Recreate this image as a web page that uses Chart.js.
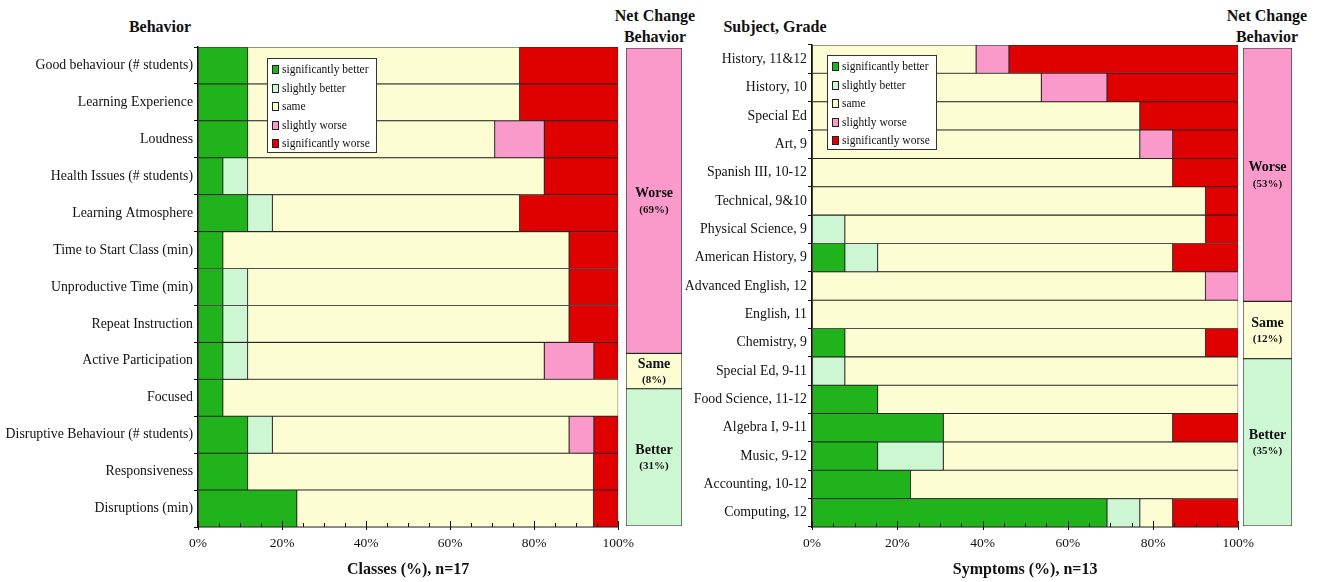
<!DOCTYPE html>
<html>
<head>
<meta charset="utf-8">
<script src="https://cdn.jsdelivr.net/npm/chart.js@4.4.1/dist/chart.umd.min.js"></script>
<style>
body { margin: 0; background: #fff; width: 1325px; height: 582px; overflow: hidden; position: relative; font-family: "Liberation Serif", serif; }
canvas { position: absolute; top: 0; }
.ttl { position: absolute; font-weight: bold; font-size: 16px; color: #111; text-align: center; line-height: 21px; white-space: nowrap; transform: translateX(-50%); }
</style>
</head>
<body>
<div class="ttl" style="left:160px;top:16px">Behavior</div>
<div class="ttl" style="left:655px;top:5px">Net Change<br>Behavior</div>
<div class="ttl" style="left:775px;top:16px">Subject, Grade</div>
<div class="ttl" style="left:1267px;top:5px">Net Change<br>Behavior</div>

<canvas id="behavior" width="642" height="582" style="left:0"></canvas>
<canvas id="behaviorNet" width="70" height="582" style="left:620px"></canvas>
<canvas id="subject" width="586" height="582" style="left:676px"></canvas>
<canvas id="subjectNet" width="60" height="582" style="left:1237px"></canvas>

<script>
// series shared by both panels
const seriesLabels = ['significantly better', 'slightly better', 'same', 'slightly worse', 'significantly worse'];
const seriesColors = ['#21b31b', '#cdf7d2', '#fdfdd3', '#fa9acb', '#df0000'];

// left panel: classes (%), n=17
const behaviorCategories = ['Good behaviour (# students)', 'Learning Experience', 'Loudness', 'Health Issues (# students)',
  'Learning Atmosphere', 'Time to Start Class (min)', 'Unproductive Time (min)', 'Repeat Instruction',
  'Active Participation', 'Focused', 'Disruptive Behaviour (# students)', 'Responsiveness', 'Disruptions (min)'];
const behaviorSigBetter = [11.8, 11.8, 11.8, 5.9, 11.8, 5.9, 5.9, 5.9, 5.9, 5.9, 11.8, 11.8, 23.5];
const behaviorSlBetter  = [0, 0, 0, 5.9, 5.9, 0, 5.9, 5.9, 5.9, 0, 5.9, 0, 0];
const behaviorSame      = [64.7, 64.7, 58.8, 70.6, 58.8, 82.4, 76.5, 76.5, 70.6, 94.1, 70.6, 82.3, 70.6];
const behaviorSlWorse   = [0, 0, 11.8, 0, 0, 0, 0, 0, 11.8, 0, 5.9, 0, 0];
const behaviorSigWorse  = [23.5, 23.5, 17.6, 17.6, 23.5, 11.7, 11.7, 11.7, 5.8, 0, 5.8, 5.9, 5.9];

// right panel: symptoms (%), n=13
const subjectCategories = ['History, 11&12', 'History, 10', 'Special Ed', 'Art, 9', 'Spanish III, 10-12', 'Technical, 9&10',
  'Physical Science, 9', 'American History, 9', 'Advanced English, 12', 'English, 11', 'Chemistry, 9', 'Special Ed, 9-11',
  'Food Science, 11-12', 'Algebra I, 9-11', 'Music, 9-12', 'Accounting, 10-12', 'Computing, 12'];
const subjectSigBetter = [0, 0, 0, 0, 0, 0, 0, 7.7, 0, 0, 7.7, 0, 15.4, 30.8, 15.4, 23.1, 69.2];
const subjectSlBetter  = [0, 0, 0, 0, 0, 0, 7.7, 7.7, 0, 0, 0, 7.7, 0, 0, 15.4, 0, 7.7];
const subjectSame      = [38.5, 53.8, 76.9, 76.9, 84.6, 92.3, 84.6, 69.2, 92.3, 100, 84.6, 92.3, 84.6, 53.8, 69.2, 76.9, 7.7];
const subjectSlWorse   = [7.7, 15.4, 0, 7.7, 0, 0, 0, 0, 7.7, 0, 0, 0, 0, 0, 0, 0, 0];
const subjectSigWorse  = [53.8, 30.8, 23.1, 15.4, 15.4, 7.7, 7.7, 15.4, 0, 0, 7.7, 0, 0, 15.4, 0, 0, 15.4];

// net change bars (bottom to top)
const netLabels = ['Better', 'Same', 'Worse'];
const netColors = ['#cdf7d2', '#fdfdd3', '#fa9acb'];
const behaviorNetValues = [31, 8, 69];
const subjectNetValues = [35, 12, 53];

Chart.defaults.font.family = '"Liberation Serif", "Times New Roman", serif';
Chart.defaults.color = '#111';

// legend box drawn inside the plot area
const boxLegend = {
    id: 'boxLegend',
    afterDatasetsDraw(chart, args, opts) {
        const { ctx, chartArea } = chart;
        const x0 = Math.round(chartArea.left + opts.dx), y0 = Math.round(chartArea.top + opts.dy);
        ctx.save();
        ctx.fillStyle = '#fff';
        ctx.fillRect(x0, y0, 109, 94);
        ctx.strokeStyle = '#333';
        ctx.lineWidth = 1;
        ctx.strokeRect(x0 + 0.5, y0 + 0.5, 109, 94);
        ctx.font = '11.5px "Liberation Serif"';
        ctx.textBaseline = 'middle';
        chart.data.datasets.forEach((ds, i) => {
            const cy = Math.round(y0 + 11 + i * 18.5);
            ctx.fillStyle = ds.backgroundColor;
            ctx.fillRect(x0 + 5, cy - 4, 6, 8);
            ctx.strokeStyle = '#222';
            ctx.strokeRect(x0 + 5.5, cy - 3.5, 6, 8);
            ctx.fillStyle = '#111';
            ctx.fillText(ds.label, x0 + 15, cy + 0.5);
        });
        ctx.restore();
    }
};

// x ticks pointing into the plot
const innerTicks = {
    id: 'innerTicks',
    afterDatasetsDraw(chart) {
        const s = chart.scales.x, { ctx, chartArea } = chart;
        ctx.save();
        ctx.strokeStyle = '#111';
        ctx.lineWidth = 1;
        s.ticks.forEach((t, i) => {
            const px = Math.round(s.getPixelForTick(i)) + 0.5;
            const len = t.value % 20 === 0 ? 6 : 4;
            ctx.beginPath();
            ctx.moveTo(px, chartArea.bottom + (t.value % 20 === 0 ? 3 : 0));
            ctx.lineTo(px, chartArea.bottom - len);
            ctx.stroke();
        });
        ctx.restore();
    }
};

// text inside the net change segments
const netText = {
    id: 'netText',
    afterDatasetsDraw(chart) {
        const ctx = chart.ctx;
        ctx.save();
        ctx.fillStyle = '#111';
        ctx.textAlign = 'center';
        ctx.textBaseline = 'middle';
        chart.data.datasets.forEach((ds, i) => {
            const el = chart.getDatasetMeta(i).data[0];
            const { x, y, base } = el.getProps(['x', 'y', 'base'], true);
            const cy = (y + base) / 2;
            ctx.font = 'bold 14px "Liberation Serif"';
            ctx.fillText(ds.label, x, cy - 7);
            ctx.font = 'bold 11px "Liberation Serif"';
            ctx.fillText('(' + ds.data[0] + '%)', x, cy + 9);
        });
        ctx.restore();
    }
};

function makeMain(id, cats, series, axisTitle, yWidth, padTop, legendPos) {
    new Chart(document.getElementById(id), {
        type: 'bar',
        data: {
            labels: cats,
            datasets: series.map((d, i) => ({
                label: seriesLabels[i],
                data: d,
                backgroundColor: seriesColors[i],
                borderColor: '#262626',
                borderWidth: 0.85,
                borderSkipped: false,
                barPercentage: 1,
                categoryPercentage: 1
            }))
        },
        options: {
            indexAxis: 'y',
            responsive: false,
            animation: false,
            layout: { padding: { top: padTop, right: 4 } },
            plugins: {
                legend: { display: false },
                tooltip: { enabled: false },
                boxLegend: legendPos
            },
            scales: {
                x: {
                    stacked: true, min: 0, max: 100,
                    border: { color: '#111', width: 1.5 },
                    grid: { drawOnChartArea: false, drawTicks: false },
                    ticks: {
                        stepSize: 5, autoSkip: false, padding: 8, maxRotation: 0,
                        font: { size: 13.5 },
                        callback: v => v % 20 === 0 ? v + '%' : ''
                    },
                    title: { display: true, text: axisTitle, font: { size: 16, weight: 'bold' }, padding: { top: 0, bottom: 3 } },
                    afterFit: s => { s.height = 55; }
                },
                y: {
                    stacked: true,
                    border: { color: '#111', width: 1.5 },
                    grid: { drawOnChartArea: false, tickLength: 4, color: '#111' },
                    ticks: { padding: 1, autoSkip: false, font: { size: 13.8 } },
                    afterFit: s => { s.width = yWidth; }
                }
            }
        },
        plugins: [innerTicks, boxLegend]
    });
}

function makeNet(id, values, padLeft, padRight) {
    const total = values.reduce((a, b) => a + b, 0);
    new Chart(document.getElementById(id), {
        type: 'bar',
        data: {
            labels: [''],
            datasets: netLabels.map((l, i) => ({
                label: l,
                data: [values[i]],
                backgroundColor: netColors[i],
                borderColor: '#222',
                borderWidth: 0.9,
                borderSkipped: false,
                barPercentage: 1,
                categoryPercentage: 1
            }))
        },
        options: {
            responsive: false,
            animation: false,
            layout: { padding: { top: 48, bottom: 56, left: padLeft, right: padRight } },
            plugins: { legend: { display: false }, tooltip: { enabled: false } },
            scales: {
                x: { display: false, stacked: true },
                y: { display: false, stacked: true, min: 0, max: total }
            }
        },
        plugins: [netText]
    });
}

makeMain('behavior', behaviorCategories,
    [behaviorSigBetter, behaviorSlBetter, behaviorSame, behaviorSlWorse, behaviorSigWorse],
    'Classes (%), n=17', 198, 47, { dx: 69, dy: 11 });
makeNet('behaviorNet', behaviorNetValues, 6, 8);

makeMain('subject', subjectCategories,
    [subjectSigBetter, subjectSlBetter, subjectSame, subjectSlWorse, subjectSigWorse],
    'Symptoms (%), n=13', 136, 45, { dx: 15, dy: 10 });
makeNet('subjectNet', subjectNetValues, 6, 5);
</script>
</body>
</html>
